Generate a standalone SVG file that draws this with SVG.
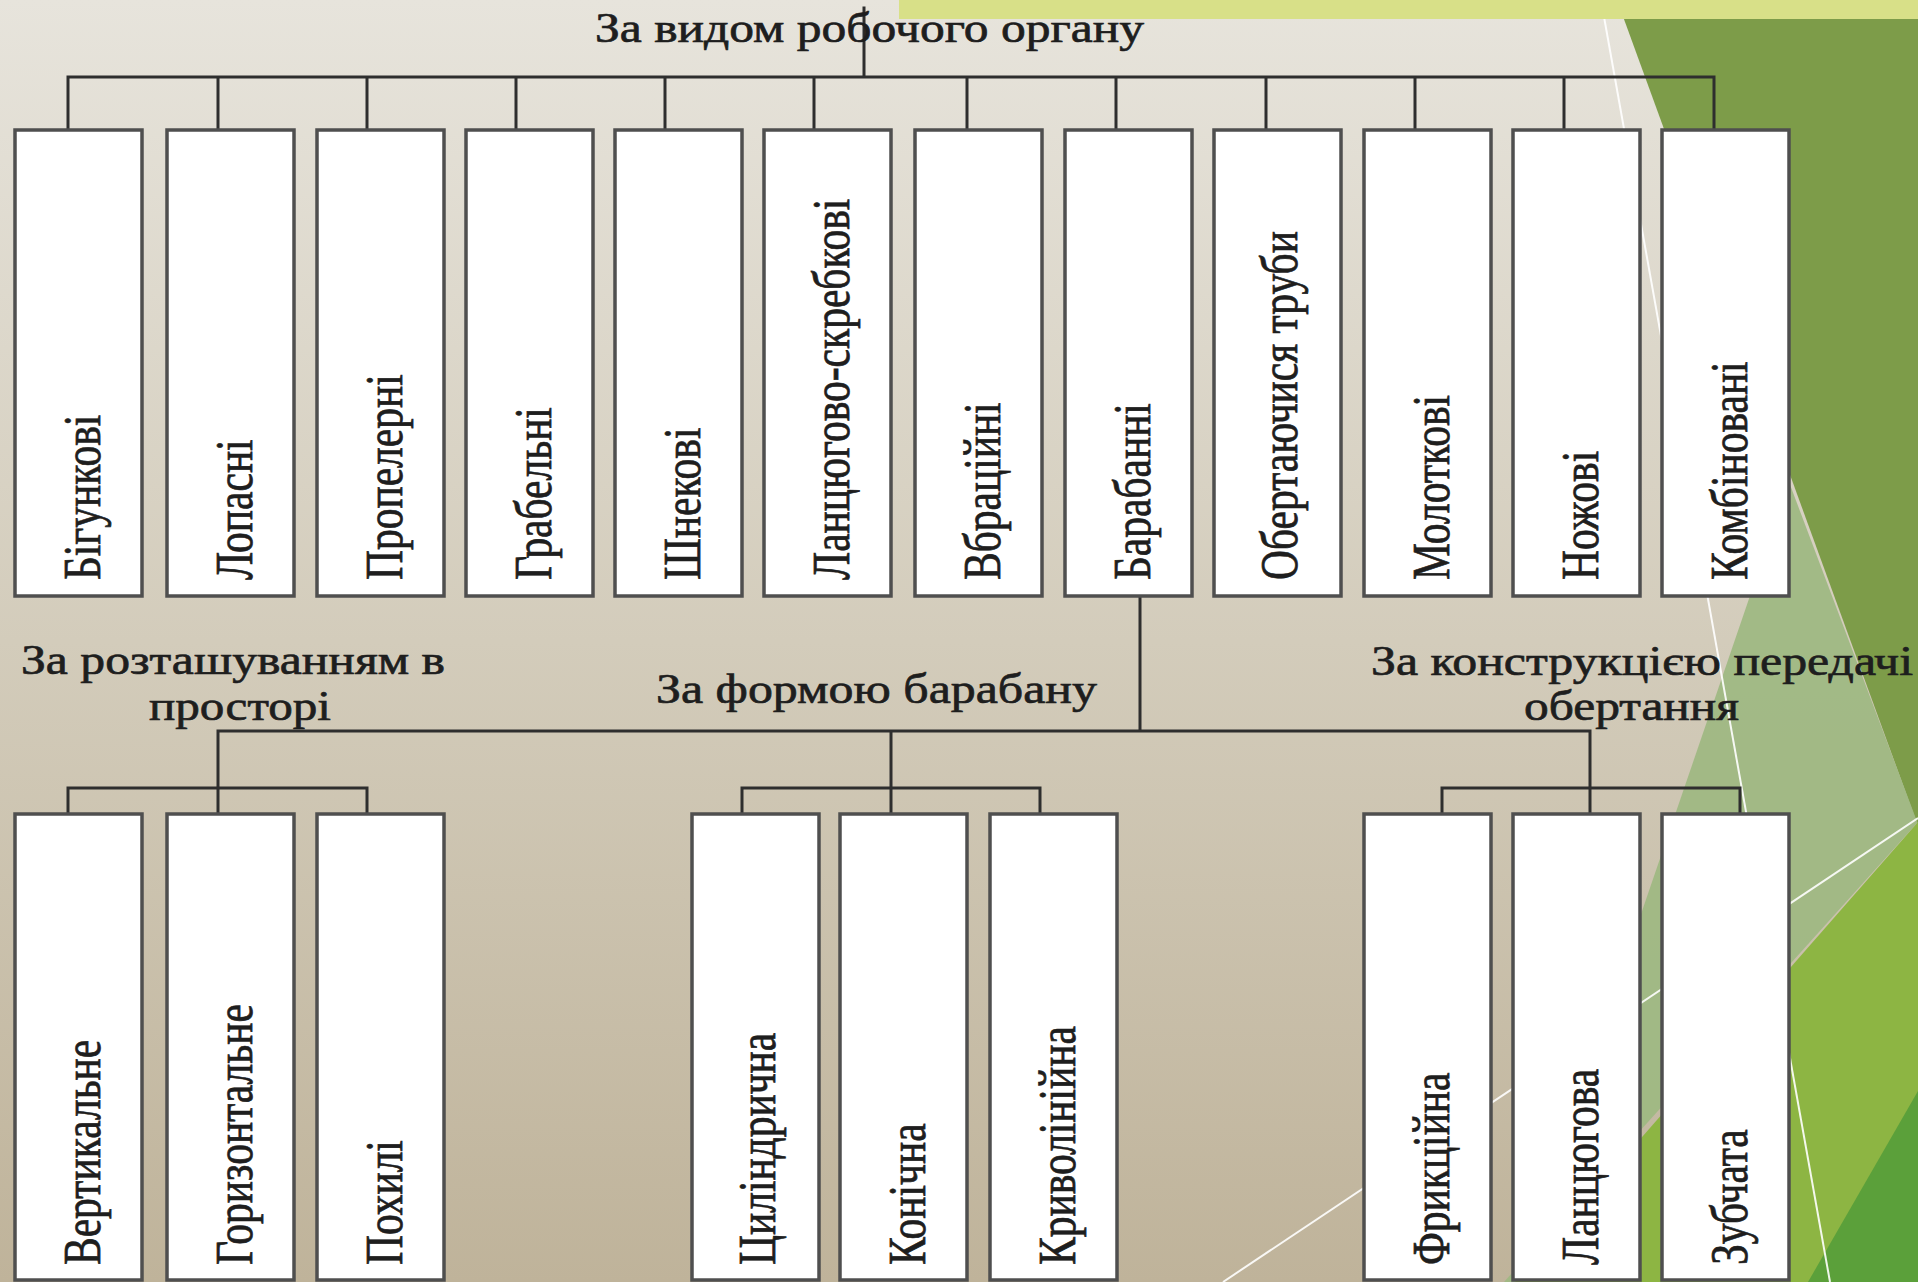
<svg xmlns="http://www.w3.org/2000/svg" width="1918" height="1282" viewBox="0 0 1918 1282">
<defs>
<linearGradient id="bg" x1="0" y1="0" x2="0" y2="1">
<stop offset="0" stop-color="#e7e4dc"/>
<stop offset="0.5" stop-color="#d3ccbb"/>
<stop offset="1" stop-color="#bfb39a"/>
</linearGradient>
<style>
.box{fill:#ffffff;stroke:#4f4f4f;stroke-width:3.5}
.con{stroke:#2e2e2e;stroke-width:3;fill:none;stroke-linecap:square}
.v{font-family:"Liberation Serif","Times New Roman",serif;font-size:41.5px;fill:#1e1e1e;stroke:#1e1e1e;stroke-width:0.6}
.h{font-family:"Liberation Serif","Times New Roman",serif;font-size:43px;fill:#1e1e1e;stroke:#1e1e1e;stroke-width:0.7}
.wl{stroke:#ffffff;stroke-width:2;fill:none;opacity:0.9}
</style>
</defs>
<g id="background">
<rect x="0" y="0" width="1918" height="1282" fill="url(#bg)"/>
<polygon points="1617,0 1918,0 1918,826" fill="#7d9c49"/>
<polygon points="1789,482 1918,824 1918,822 1504,1282 1515,1282" fill="#9fb883" opacity="0.95"/>
<polygon points="1918,822 1515,1282 1918,1282" fill="#8db543"/>
<polygon points="1918,1091 1808,1282 1918,1282" fill="#5ba03a"/>
<line class="wl" x1="1601" y1="0" x2="1830" y2="1282"/>
<line class="wl" x1="1223" y1="1282" x2="1918" y2="818"/>
<rect x="899" y="0" width="1019" height="19" fill="#d8e088"/>
</g>
<g id="connectors">
<path class="con" d="M864,8 V77 M68,77 H1714 M68,77 V130 M218,77 V130 M367,77 V130 M516,77 V130 M665,77 V130 M814,77 V130 M967,77 V130 M1116,77 V130 M1266,77 V130 M1415,77 V130 M1564,77 V130 M1714,77 V130"/>
<path class="con" d="M1140,596 V731 M218,731 H1590 M218,731 V788 M68,788 H367 M68,788 V814 M218,788 V814 M367,788 V814 M891,731 V788 M742,788 H1040 M742,788 V814 M891,788 V814 M1040,788 V814 M1590,731 V788 M1442,788 H1740 M1442,788 V814 M1590,788 V814 M1740,788 V814"/>
</g>
<g id="title"><text class="h" x="595" y="42" textLength="549" lengthAdjust="spacingAndGlyphs">За видом робочого органу</text></g>
<g id="n1"><rect class="box" x="15" y="130" width="127" height="466"/><text class="v" transform="translate(100,580) scale(1.25,1) rotate(-90)">Бігункові</text></g>
<g id="n2"><rect class="box" x="167" y="130" width="127" height="466"/><text class="v" transform="translate(252,580) scale(1.25,1) rotate(-90)">Лопасні</text></g>
<g id="n3"><rect class="box" x="317" y="130" width="127" height="466"/><text class="v" transform="translate(402,580) scale(1.25,1) rotate(-90)">Пропелерні</text></g>
<g id="n4"><rect class="box" x="466" y="130" width="127" height="466"/><text class="v" transform="translate(551,580) scale(1.25,1) rotate(-90)">Грабельні</text></g>
<g id="n5"><rect class="box" x="615" y="130" width="127" height="466"/><text class="v" transform="translate(700,580) scale(1.25,1) rotate(-90)">Шнекові</text></g>
<g id="n6"><rect class="box" x="764" y="130" width="127" height="466"/><text class="v" transform="translate(849,580) scale(1.25,1) rotate(-90)">Ланцюгово-скребкові</text></g>
<g id="n7"><rect class="box" x="915" y="130" width="127" height="466"/><text class="v" transform="translate(1000,580) scale(1.25,1) rotate(-90)">Вбраційні</text></g>
<g id="n8"><rect class="box" x="1065" y="130" width="127" height="466"/><text class="v" transform="translate(1150,580) scale(1.25,1) rotate(-90)">Барабанні</text></g>
<g id="n9"><rect class="box" x="1214" y="130" width="127" height="466"/><text class="v" transform="translate(1297,580) scale(1.25,1) rotate(-90)">Обертаючися труби</text></g>
<g id="n10"><rect class="box" x="1364" y="130" width="127" height="466"/><text class="v" transform="translate(1449,580) scale(1.25,1) rotate(-90)">Молоткові</text></g>
<g id="n11"><rect class="box" x="1513" y="130" width="127" height="466"/><text class="v" transform="translate(1598,580) scale(1.25,1) rotate(-90)">Ножові</text></g>
<g id="n12"><rect class="box" x="1662" y="130" width="127" height="466"/><text class="v" transform="translate(1747,580) scale(1.25,1) rotate(-90)">Комбіновані</text></g>
<g id="label-space"><text class="h" x="21" y="674" textLength="424" lengthAdjust="spacingAndGlyphs">За розташуванням в</text><text class="h" x="149" y="720" textLength="182" lengthAdjust="spacingAndGlyphs">просторі</text></g>
<g id="label-form"><text class="h" x="656" y="703" textLength="441" lengthAdjust="spacingAndGlyphs">За формою барабану</text></g>
<g id="label-drive"><text class="h" x="1371" y="675" textLength="542" lengthAdjust="spacingAndGlyphs">За конструкцією передачі</text><text class="h" x="1524" y="720" textLength="215" lengthAdjust="spacingAndGlyphs">обертання</text></g>
<g id="b1"><rect class="box" x="15" y="814" width="127" height="466"/><text class="v" transform="translate(100,1265) scale(1.25,1) rotate(-90)">Вертикальне</text></g>
<g id="b2"><rect class="box" x="167" y="814" width="127" height="466"/><text class="v" transform="translate(252,1265) scale(1.25,1) rotate(-90)">Горизонтальне</text></g>
<g id="b3"><rect class="box" x="317" y="814" width="127" height="466"/><text class="v" transform="translate(402,1265) scale(1.25,1) rotate(-90)">Похилі</text></g>
<g id="b4"><rect class="box" x="692" y="814" width="127" height="466"/><text class="v" transform="translate(775,1265) scale(1.25,1) rotate(-90)">Циліндрична</text></g>
<g id="b5"><rect class="box" x="840" y="814" width="127" height="466"/><text class="v" transform="translate(925,1265) scale(1.25,1) rotate(-90)">Конічна</text></g>
<g id="b6"><rect class="box" x="990" y="814" width="127" height="466"/><text class="v" transform="translate(1075,1265) scale(1.25,1) rotate(-90)">Криволінійна</text></g>
<g id="b7"><rect class="box" x="1364" y="814" width="127" height="466"/><text class="v" transform="translate(1449,1265) scale(1.25,1) rotate(-90)">Фрикційна</text></g>
<g id="b8"><rect class="box" x="1513" y="814" width="127" height="466"/><text class="v" transform="translate(1598,1265) scale(1.25,1) rotate(-90)">Ланцюгова</text></g>
<g id="b9"><rect class="box" x="1662" y="814" width="127" height="466"/><text class="v" transform="translate(1747,1265) scale(1.25,1) rotate(-90)">Зубчата</text></g>
</svg>
